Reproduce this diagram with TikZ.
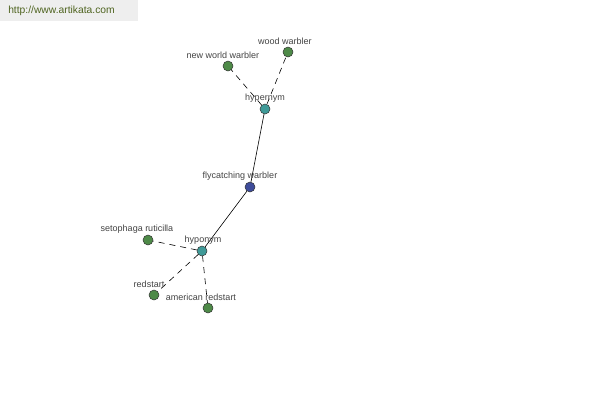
\documentclass[tikz,border=0pt]{standalone}
\usepackage{fontspec}
\setmainfont{Liberation Sans}
\usepackage{xcolor}
\usetikzlibrary{calc, positioning}

\definecolor{leafgreen}{HTML}{4E8A48}
\definecolor{hubteal}{HTML}{3F9A98}
\definecolor{rootblue}{HTML}{3E4C9A}
\definecolor{bannergray}{HTML}{EEEEEE}
\definecolor{bannertext}{HTML}{4F6420}
\definecolor{labeltext}{HTML}{444444}

\tikzset{
    dot/.style={circle, draw=black!80, line width=0.5pt, minimum size=10pt, inner sep=0pt},
    word/.style={font=\fontsize{9}{11}\selectfont, text=labeltext, inner sep=1pt},
    link/.style={line width=0.6pt, black},
    weaklink/.style={link, dash pattern=on 6pt off 5pt}
}

\begin{document}
\begin{tikzpicture}[x=1pt, y=-1pt]
    % Khung ảnh 600x400
    \useasboundingbox (0,0) rectangle (600,400);
    \fill[white] (0,0) rectangle (600,400);

    % Dải tiêu đề góc trên trái
    \fill[bannergray] (0,0) rectangle (138,21);
    \node[font=\fontsize{10.3}{12}\selectfont, text=bannertext, inner sep=0pt] (site) at (61.5,11) {http://www.artikata.com};

    % Các nút
    \node[dot, fill=leafgreen] (wood) at (288,52) {};
    \node[dot, fill=leafgreen] (newworld) at (228,66) {};
    \node[dot, fill=hubteal] (hyper) at (265,109) {};
    \node[dot, fill=rootblue] (fly) at (250,187) {};
    \node[dot, fill=hubteal] (hypo) at (202,251) {};
    \node[dot, fill=leafgreen] (seto) at (148,240) {};
    \node[dot, fill=leafgreen] (red) at (154,295) {};
    \node[dot, fill=leafgreen] (amred) at (208,308) {};

    % Các cạnh
    \draw[link] (hyper) -- (fly);
    \draw[link] (fly) -- (hypo);
    \draw[weaklink] (hyper) -- (newworld);
    \draw[weaklink] (hyper) -- (wood);
    \draw[weaklink] (hypo) -- (seto);
    \draw[weaklink] (hypo) -- (red);
    \draw[weaklink] (hypo) -- (amred);

    % Nhãn
    \node[word] (lwood) at (285,41) {wood warbler};
    \node[word] (lnewworld) at (223,55) {new world warbler};
    \node[word] (lhyper) at (265,98) {hypernym};
    \node[word] (lfly) at (240,176) {flycatching warbler};
    \node[word] (lhypo) at (203,240) {hyponym};
    \node[word] (lseto) at (137,229) {setophaga ruticilla};
    \node[word] (lred) at (149,284) {redstart};
    \node[word] (lamred) at (201,297) {american redstart};
\end{tikzpicture}
\end{document}
